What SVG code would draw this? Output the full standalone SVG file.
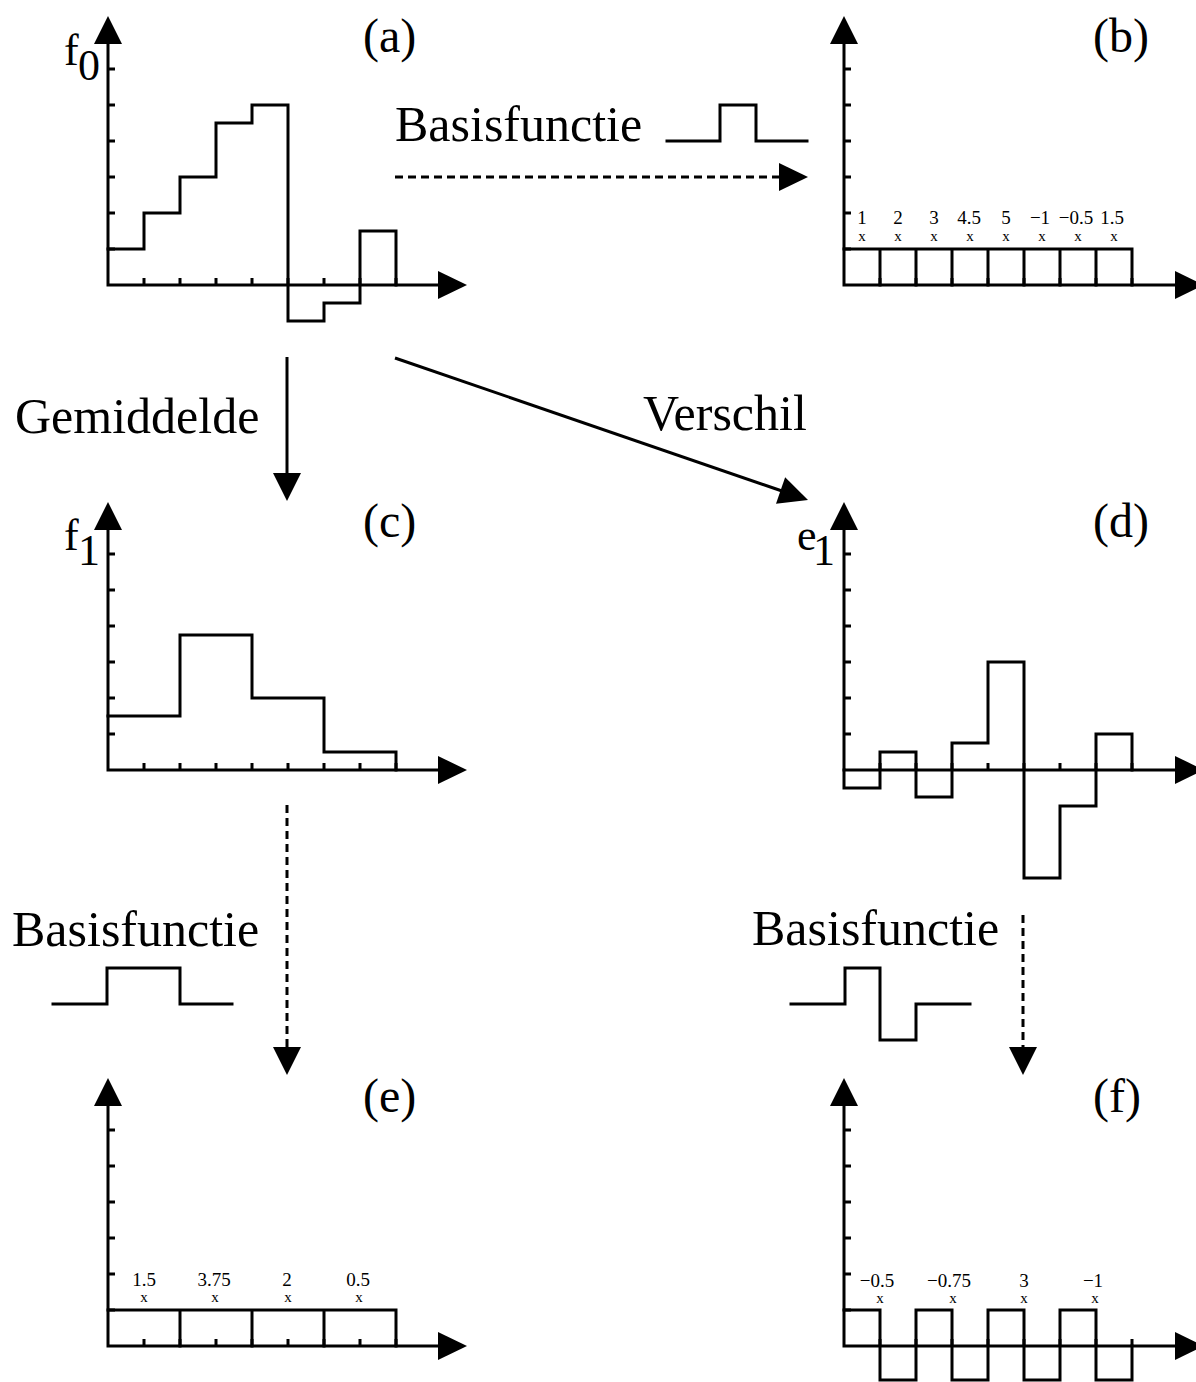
<svg xmlns="http://www.w3.org/2000/svg" xmlns:xlink="http://www.w3.org/1999/xlink" width="1196" height="1382" viewBox="0 0 1196 1382">
<style>
.ln{fill:none;stroke:#000;stroke-width:3;stroke-linejoin:miter;stroke-linecap:square}
.tk{fill:none;stroke:#000;stroke-width:3}
.dash{fill:none;stroke:#000;stroke-width:3;stroke-dasharray:8 5}
.ah{fill:#000;stroke:none}
.big{font-family:"Liberation Serif","Times New Roman",serif;font-size:50px;fill:#000}
.lab{font-family:"Liberation Serif","Times New Roman",serif;font-size:48px;fill:#000}
.sym{font-family:"Liberation Serif","Times New Roman",serif;font-size:44px;fill:#000}
.num{font-family:"Liberation Serif","Times New Roman",serif;font-size:19px;fill:#000;text-anchor:middle}
.xm{font-family:"Liberation Serif","Times New Roman",serif;font-size:15px;fill:#000;text-anchor:middle}
</style>
<defs>
<path id="ahU" class="ah" d="M0,0 L14,28 L-14,28 Z"/>
<path id="ahR" class="ah" d="M0,0 L-29,-14 L-29,14 Z"/>
<path id="ahD" class="ah" d="M0,0 L-14,-28 L14,-28 Z"/>
<path id="yt" class="tk" d="M0,-36h7M0,-72h7M0,-108h7M0,-144h7M0,-180h7M0,-216h7"/>
<path id="xt" class="tk" d="M36,0v-7M72,0v-7M108,0v-7M144,0v-7M180,0v-7M216,0v-7M252,0v-7M288,0v-7"/>
</defs>
<rect width="1196" height="1382" fill="#fff"/>

<g id="panel-a">
<path class="ln" d="M108,44 V285 H438"/>
<use xlink:href="#ahU" x="108" y="16"/>
<use xlink:href="#ahR" x="467" y="285"/>
<use xlink:href="#yt" x="108" y="285"/>
<use xlink:href="#xt" x="108" y="285"/>
<path class="ln" d="M108,249 H144 V213 H180 V177 H216 V123 H252 V105 H288 V321 H324 V303 H360 V231 H396 V285"/>
<text class="sym" x="64" y="65">f</text><text class="sym" x="78" y="80">0</text>
<text class="lab" x="363" y="52">(a)</text>
</g>

<g id="panel-b">
<path class="ln" d="M844,44 V285 H1175"/>
<use xlink:href="#ahU" x="844" y="16"/>
<use xlink:href="#ahR" x="1204" y="285"/>
<use xlink:href="#yt" x="844" y="285"/>
<use xlink:href="#xt" x="844" y="285"/>
<path class="ln" d="M844,249 H1132 V285 M880,249 V285 M916,249 V285 M952,249 V285 M988,249 V285 M1024,249 V285 M1060,249 V285 M1096,249 V285"/>
<text class="num" x="862" y="224">1</text>
<text class="num" x="898" y="224">2</text>
<text class="num" x="934" y="224">3</text>
<text class="num" x="969" y="224">4.5</text>
<text class="num" x="1006" y="224">5</text>
<text class="num" x="1040" y="224">−1</text>
<text class="num" x="1076" y="224">−0.5</text>
<text class="num" x="1112" y="224">1.5</text>
<text class="xm" x="862" y="241">x</text>
<text class="xm" x="898" y="241">x</text>
<text class="xm" x="934" y="241">x</text>
<text class="xm" x="970" y="241">x</text>
<text class="xm" x="1006" y="241">x</text>
<text class="xm" x="1042" y="241">x</text>
<text class="xm" x="1078" y="241">x</text>
<text class="xm" x="1114" y="241">x</text>
<text class="lab" x="1093" y="52">(b)</text>
</g>

<g id="panel-c">
<path class="ln" d="M108,530 V770 H438"/>
<use xlink:href="#ahU" x="108" y="502"/>
<use xlink:href="#ahR" x="467" y="770"/>
<use xlink:href="#yt" x="108" y="770"/>
<use xlink:href="#xt" x="108" y="770"/>
<path class="ln" d="M108,716 H180 V635 H252 V698 H324 V752 H396 V770"/>
<text class="sym" x="64" y="550">f</text><text class="sym" x="78" y="565">1</text>
<text class="lab" x="363" y="537">(c)</text>
</g>

<g id="panel-d">
<path class="ln" d="M844,530 V770 H1175"/>
<use xlink:href="#ahU" x="844" y="502"/>
<use xlink:href="#ahR" x="1204" y="770"/>
<use xlink:href="#yt" x="844" y="770"/>
<use xlink:href="#xt" x="844" y="770"/>
<path class="ln" d="M844,770 V788 H880 V752 H916 V797 H952 V743 H988 V662 H1024 V878 H1060 V806 H1096 V734 H1132 V770"/>
<text class="sym" x="797" y="550">e</text><text class="sym" x="813" y="565">1</text>
<text class="lab" x="1093" y="537">(d)</text>
</g>

<g id="panel-e">
<path class="ln" d="M108,1106 V1346 H438"/>
<use xlink:href="#ahU" x="108" y="1078"/>
<use xlink:href="#ahR" x="467" y="1346"/>
<use xlink:href="#yt" x="108" y="1346"/>
<use xlink:href="#xt" x="108" y="1346"/>
<path class="ln" d="M108,1310 H396 V1346 M180,1310 V1346 M252,1310 V1346 M324,1310 V1346"/>
<text class="num" x="144" y="1286">1.5</text>
<text class="num" x="214" y="1286">3.75</text>
<text class="num" x="287" y="1286">2</text>
<text class="num" x="358" y="1286">0.5</text>
<text class="xm" x="144" y="1302">x</text>
<text class="xm" x="215" y="1302">x</text>
<text class="xm" x="288" y="1302">x</text>
<text class="xm" x="359" y="1302">x</text>
<text class="lab" x="363" y="1112">(e)</text>
</g>

<g id="panel-f">
<path class="ln" d="M844,1106 V1346 H1175"/>
<use xlink:href="#ahU" x="844" y="1078"/>
<use xlink:href="#ahR" x="1204" y="1346"/>
<use xlink:href="#yt" x="844" y="1346"/>
<use xlink:href="#xt" x="844" y="1346"/>
<path class="ln" d="M844,1310 H880 V1380 H916 V1310 H952 V1380 H988 V1310 H1024 V1380 H1060 V1310 H1096 V1380 H1132 V1346"/>
<text class="num" x="877" y="1287">−0.5</text>
<text class="num" x="949" y="1287">−0.75</text>
<text class="num" x="1024" y="1287">3</text>
<text class="num" x="1093" y="1287">−1</text>
<text class="xm" x="880" y="1303">x</text>
<text class="xm" x="953" y="1303">x</text>
<text class="xm" x="1024" y="1303">x</text>
<text class="xm" x="1095" y="1303">x</text>
<text class="lab" x="1093" y="1112">(f)</text>
</g>

<g id="basis-top">
<text class="big" x="395" y="141">Basisfunctie</text>
<path class="ln" d="M667,141 H720 V105 H756 V141 H807"/>
</g>
<g id="basis-left">
<text class="big" x="12" y="946">Basisfunctie</text>
<path class="ln" d="M53,1004 H107 V968 H180 V1004 H232"/>
</g>
<g id="basis-right">
<text class="big" x="752" y="945">Basisfunctie</text>
<path class="ln" d="M791,1004 H845 V968 H880 V1040 H916 V1004 H970"/>
</g>
<g id="labels">
<text class="big" x="15" y="433">Gemiddelde</text>
<text class="big" x="643" y="430">Verschil</text>
</g>

<g id="connectors">
<path class="dash" d="M395,177 H780"/>
<use xlink:href="#ahR" x="808" y="177"/>
<path class="tk" d="M287,357 V474"/>
<use xlink:href="#ahD" x="287" y="501"/>
<path class="tk" d="M395,358 L782,491"/>
<use xlink:href="#ahR" transform="translate(808,500) rotate(19)"/>
<path class="dash" d="M287,805 V1048"/>
<use xlink:href="#ahD" x="287" y="1075"/>
<path class="dash" d="M1023,915 V1048"/>
<use xlink:href="#ahD" x="1023" y="1075"/>
</g>
</svg>
